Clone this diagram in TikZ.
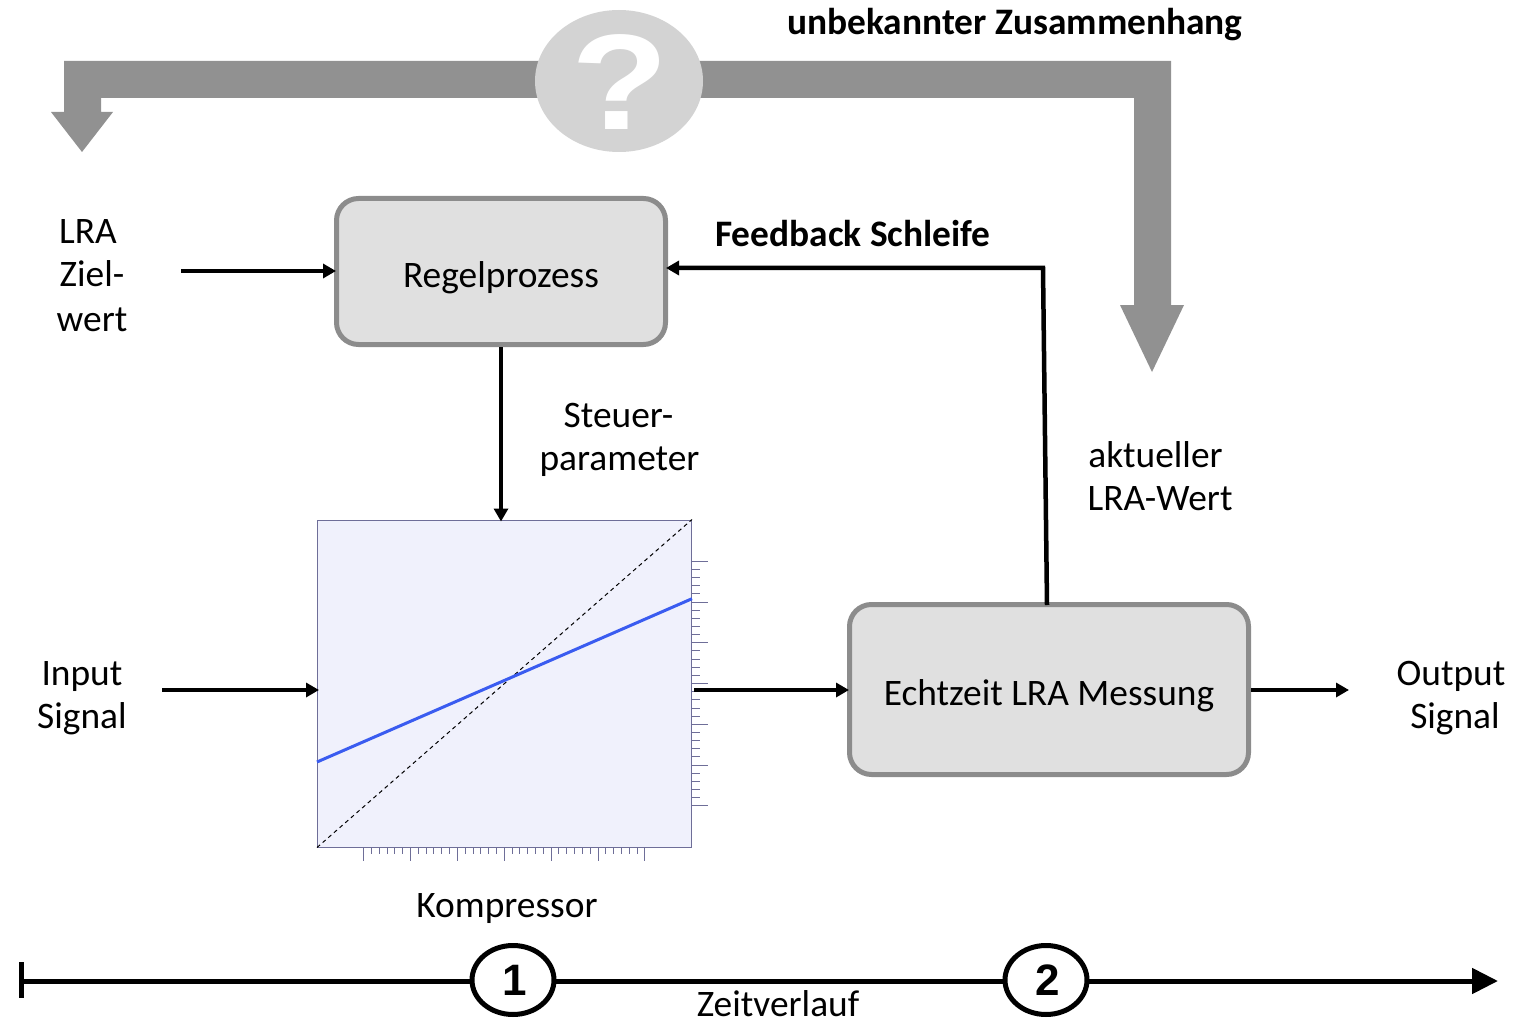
\documentclass[tikz,border=0pt]{standalone}
\usepackage{fontspec}
\setmainfont{Carlito}
\newfontfamily\qfont{Liberation Sans}
\usetikzlibrary{arrows.meta,shapes.geometric}
\definecolor{boxfill}{HTML}{E0E0E0}
\definecolor{boxline}{HTML}{8C8C8C}
\definecolor{bigarrow}{HTML}{919191}
\definecolor{qfill}{HTML}{D3D3D3}
\definecolor{plotfill}{HTML}{F0F1FC}
\definecolor{plotline}{HTML}{6E6E98}
\definecolor{bluecurve}{HTML}{3A5CF0}
\tikzset{
  x=1pt,y=-1pt,
  lbl/.style={font=\fontsize{37.4}{43}\selectfont,align=center,inner sep=0pt,text=black},
  boldlbl/.style={lbl,font=\fontsize{37.4}{43}\selectfont\bfseries},
  procbox/.style={draw=boxline,line width=5pt,fill=boxfill,rounded corners=22pt,inner sep=0pt,font=\fontsize{37.4}{43}\selectfont},
  flow/.style={draw=black,line width=4.5pt,shorten >=-2pt,-{Triangle[length=13pt,width=14pt]}},
  tickline/.style={draw=plotline,line width=1pt},
  stepnum/.style={draw=black,line width=5pt,fill=white,ellipse,minimum width=82pt,minimum height=69pt,inner sep=0pt,font=\fontsize{44}{44}\selectfont\bfseries\qfont},
}
\begin{document}
\begin{tikzpicture}
\useasboundingbox (0,0) rectangle (1524,1019);
% big grey feedback arrows
\coordinate (bigL) at (82,152);
\coordinate (bigR) at (1152,372);
\fill[bigarrow] (64,61) -- (1171,61) -- (1171,305) -- (1184,305) -- (bigR) -- (1120,305) -- (1134,305) -- (1134,98) -- (101,98) -- (101,112) -- (113,112) -- (bigL) -- (51,112) -- (64,112) -- cycle;
\node[ellipse,fill=qfill,minimum width=168pt,minimum height=142pt,inner sep=0pt] (q) at (619,81) {};
\node[font=\fontsize{136}{136}\selectfont\bfseries\qfont,text=white,inner sep=0pt] (qm) at (620,82) {\scalebox{1.17}[1]{?}};
\node[boldlbl] (lunk) at (1015,25) {unbekannter Zusammenhang};

% boxes
\node[procbox,minimum width=329pt,minimum height=146pt] (regel) at (501,271.5) {\raisebox{-6pt}[\height][\depth]{Regelprozess}};
\node[procbox,minimum width=399pt,minimum height=170pt] (mess) at (1049,689.5) {\raisebox{-6pt}[\height][\depth]{Echtzeit LRA Messung}};
\node[draw=plotline,line width=1pt,fill=plotfill,minimum width=374pt,minimum height=327pt,inner sep=0pt] (komp) at (504.5,683.5) {};

% plot
\foreach \i in {0,...,30}{
  \pgfmathsetmacro{\yy}{561.3+\i*8.15}
  \pgfmathtruncatemacro{\m}{mod(\i,5)}
  \ifnum\m=0 \draw[tickline] (692,\yy) -- (708,\yy); \else \draw[tickline] (692,\yy) -- (700,\yy); \fi
}
\foreach \i in {0,...,36}{
  \pgfmathsetmacro{\xx}{363.7+\i*7.81}
  \pgfmathtruncatemacro{\m}{mod(\i,6)}
  \ifnum\m=0 \draw[tickline] (\xx,847) -- (\xx,861); \else \draw[tickline] (\xx,847) -- (\xx,854); \fi
}
\draw[black,line width=1pt,dash pattern=on 4pt off 3.5pt] (komp.south west) -- (komp.north east);
\draw[bluecurve,line width=3pt] (komp.west |- 0,762) -- (510,678) -- (komp.east |- 0,598.7);

% flows
\coordinate (inZiel) at (181,271);
\coordinate (inSig) at (162,690);
\coordinate (outK) at (694,690);
\coordinate (outSig) at (1347,690);
\coordinate (fbBend) at (1043,268);
\coordinate (fbEnd) at (1047,605);
\draw[flow] (inZiel) -- (regel.west |- inZiel);
\draw[flow] (regel.south) -- (regel.south |- komp.north);
\draw[flow] (inSig) -- (komp.west |- inSig);
\draw[flow] (outK) -- (mess.west |- outK);
\draw[flow] (mess.east |- outSig) -- (outSig);
\draw[flow] (fbEnd) -- (fbBend) -- (regel.east |- fbBend);

% labels
\node[lbl] (lziel) at (92,275.5) {\hspace{-8pt}LRA\\Ziel-\\[2pt]wert};
\node[lbl] (lsteuer) at (619.5,440) {\hspace{-2pt}Steuer-\\parameter};
\node[boldlbl] (lfb) at (853,234) {Feedback Schleife};
\node[lbl] (lakt) at (1160,476) {\hspace{-9pt}aktueller\\LRA-Wert};
\node[lbl] (linp) at (82,698) {Input\\Signal};
\node[lbl] (lout) at (1451,698) {Output\\\hspace{8pt}Signal};
\node[lbl] (lkomp) at (507,909) {Kompressor};
\node[lbl] (lzeit) at (778,1004) {Zeitverlauf};

% timeline
\coordinate (tStart) at (21,981);
\coordinate (tEnd) at (1498,981);
\draw[black,line width=5pt,-{Triangle[length=26pt,width=25pt]}] (tStart) -- (tEnd);
\draw[black,line width=5pt] (21,962) -- (21,998);
\node[stepnum] (s1) at (513,980) {\hspace{4pt}1};
\node[stepnum] (s2) at (1046,980) {\hspace{4pt}2};
\end{tikzpicture}
\end{document}
